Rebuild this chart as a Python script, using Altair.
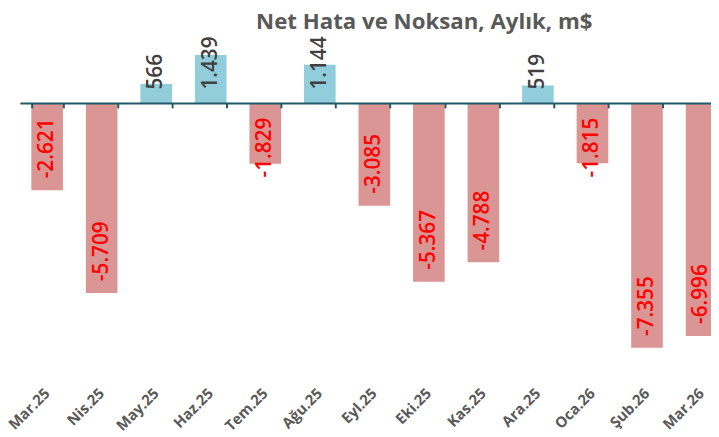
import altair as alt
import pandas as pd
import numpy as np

months = ["Mar.25", "Nis.25", "May.25", "Haz.25", "Tem.25", "Ağu.25", "Eyl.25",
          "Eki.25", "Kas.25", "Ara.25", "Oca.26", "Şub.26", "Mar.26"]
values = [-2621, -5709, 566, 1439, -1829, 1144, -3085, -5367, -4788, 519, -1815, -7355, -6996]
labels = ["-2.621", "-5.709", "566", "1.439", "-1.829", "1.144", "-3.085",
          "-5.367", "-4.788", "519", "-1.815", "-7.355", "-6.996"]
title_text = "Net Hata ve Noksan, Aylık, m$"

# layout
W, H = 699, 353
Y_MIN, Y_MAX = -8000, 2480
k = H / (Y_MAX - Y_MIN)          # px per unit
zero_px = Y_MAX * k              # zero line position inside plot

df = pd.DataFrame({"month": months, "value": values, "label": labels})
df["sign"] = np.where(df["value"] < 0, "neg", "pos")
v = df["value"].to_numpy(dtype=float)
df["anchor"] = np.where(v < 0, np.minimum(v + 12 / k, -75.5 / k), 13.5 / k)

FONT = "Open Sans"
AXIS_COL = "#215968"

xscale = alt.Scale(domain=months, range=[0, 717], paddingInner=0.42, paddingOuter=0.21)
yscale = alt.Scale(domain=[Y_MIN, Y_MAX], nice=False, zero=False)
xaxis = alt.Axis(labels=False, title=None, grid=False, domain=True,
                 domainColor=AXIS_COL, domainWidth=2,
                 ticks=True, tickBand="extent", tickColor=AXIS_COL,
                 tickWidth=2, tickSize=5, offset=-(H - zero_px), zindex=1)
X = alt.X("month:N", sort=months, scale=xscale, axis=xaxis)

base = alt.Chart(df)

bars = base.mark_bar().encode(
    x=X,
    y=alt.Y("value:Q", scale=yscale, axis=None),
    color=alt.Color("sign:N", scale=alt.Scale(domain=["neg", "pos"], range=["#DA9694", "#92CDDC"]),
                    legend=None),
)

vals = base.mark_text(angle=270, align="left", baseline="middle", font=FONT,
                      fontSize=21, fontWeight=600).encode(
    x=X,
    y=alt.Y("anchor:Q", scale=yscale, axis=None),
    text="label:N",
    color=alt.Color("sign:N", scale=alt.Scale(domain=["neg", "pos"], range=["#FF0000", "#404040"]),
                    legend=None),
)

xlabels = base.mark_text(angle=315, align="right", baseline="middle", font=FONT,
                         fontSize=15, fontWeight="bold", color="#595959").encode(
    x=X,
    y=alt.value(375),
    text="month:N",
)

title = alt.Chart(pd.DataFrame({"t": [title_text]})).mark_text(
    align="center", baseline="alphabetic", font=FONT, fontSize=22.5, fontWeight="bold",
    color="#595959").encode(
    x=alt.value(409), y=alt.value(8.5), text="t:N")

chart = alt.layer(bars, vals, xlabels, title).resolve_scale(color="independent").properties(
    width=W, height=H,
    autosize=alt.AutoSizeParams(type="none"),
    padding={"left": 12, "top": 10, "right": 0, "bottom": 66},
).configure_view(stroke=None)

chart.save("out.html", embed_options={"renderer": "svg", "actions": False})
